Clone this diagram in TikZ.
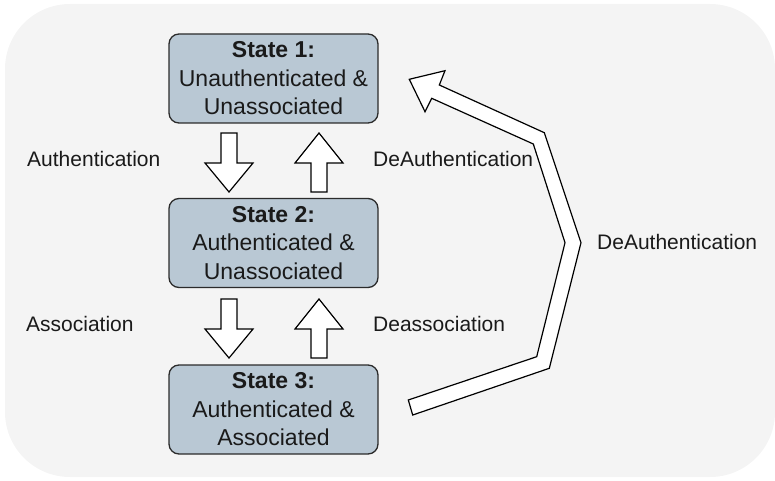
\documentclass[tikz,border=0pt]{standalone}
\usepackage{fontspec}
\setmainfont{Liberation Sans}
\definecolor{bgc}{HTML}{F4F4F4}
\definecolor{boxc}{HTML}{B9C8D4}
\definecolor{edgec}{HTML}{2B2B2B}
\definecolor{txtc}{HTML}{1A1A1A}
\begin{document}
\begin{tikzpicture}[x=1pt,y=-1pt,
  statebox/.style={draw=edgec,line width=1.3pt,fill=boxc,rounded corners=10pt,
    minimum width=209pt,minimum height=89pt,align=center,text=txtc,inner sep=0pt,
    font=\fontsize{23}{28.5}\selectfont},
  lbl/.style={anchor=base west,text=txtc,inner sep=0pt,font=\fontsize{21}{25}\selectfont},
  blockarrow/.style={draw=black,line width=1.2pt,fill=white,line join=miter}]
\useasboundingbox (0,0) rectangle (775,481);
\fill[bgc,rounded corners=65pt] (5,4) rectangle (775,477);

\node[statebox] (s1) at (273.5,78.5) {\textbf{State 1:}\\Unauthenticated \&\\Unassociated};
\node[statebox] (s2) at (273.5,243) {\textbf{State 2:}\\Authenticated \&\\Unassociated};
\node[statebox] (s3) at (273.5,409.5) {\textbf{State 3:}\\Authenticated \&\\Associated};

% down arrows (top at y, length 59)
\newcommand{\dnarrow}[2]{\draw[blockarrow] (#1-8,#2) -- (#1+8,#2) -- (#1+8,#2+30) -- (#1+24,#2+30) -- (#1,#2+59) -- (#1-24,#2+30) -- (#1-8,#2+30) -- cycle;}
\newcommand{\uparrowblk}[2]{\draw[blockarrow] (#1,#2) -- (#1+24,#2+30) -- (#1+8,#2+30) -- (#1+8,#2+59) -- (#1-8,#2+59) -- (#1-8,#2+30) -- (#1-24,#2+30) -- cycle;}
\dnarrow{229}{133}
\uparrowblk{319}{133}
\dnarrow{229}{299}
\uparrowblk{319}{299}

% big return arrow from state 3 to state 1
\coordinate (tailA) at (408.3,400);
\coordinate (tailB) at (412.7,415);
\draw[blockarrow] (tailA) -- (536.7,356.7) -- (565,242.7) -- (533.3,144) -- (431.7,98.3)
  -- (425,111.7) -- (409.3,79.3) -- (445,70.7) -- (439.3,85) -- (544.3,132.7)
  -- (581,242.7) -- (549.3,368.3) -- (tailB) -- cycle;

\node[lbl] (l1) at (27,167) {Authentication};
\node[lbl] (l2) at (373,167) {DeAuthentication};
\node[lbl] (l3) at (26,331) {Association};
\node[lbl] (l4) at (373,331) {Deassociation};
\node[lbl] (l5) at (597,249) {DeAuthentication};
\end{tikzpicture}
\end{document}
